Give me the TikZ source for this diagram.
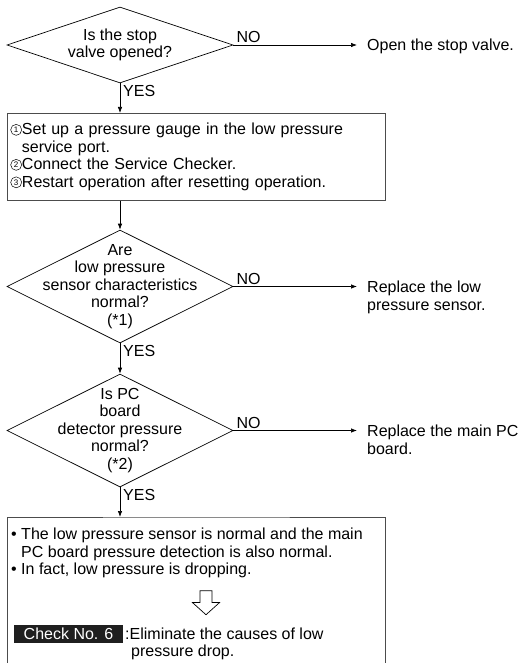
\documentclass[tikz,border=0pt]{standalone}
\usepackage{fontspec}
\setmainfont{Liberation Sans}
\usetikzlibrary{shapes.geometric,shapes.arrows,arrows.meta}
\newcommand{\cnum}[1]{\tikz[baseline={([yshift=-5pt]n.center)}]\node[circle,draw,line width=0.5pt,inner sep=0pt,minimum size=11pt,font=\fontsize{8}{8}\selectfont] (n) {#1};}

\begin{document}
\begin{tikzpicture}[x=1pt,y=-1pt,font=\fontsize{16}{17.5}\selectfont,
  decision/.style={draw,diamond,inner sep=0pt,minimum width=226pt,line width=0.7pt},
  qtext/.style={align=center,inner sep=0pt},
  stepbox/.style={draw=black!70,line width=0.9pt,anchor=north west,inner xsep=3pt,text width=372pt,align=left},
  openbox/.style={anchor=north west,inner sep=0pt,minimum width=378pt},
  boxline/.style={draw=black!70,line width=0.9pt},
  note/.style={align=left,anchor=north west,inner xsep=10pt,inner ysep=0pt},
  body/.style={align=left,anchor=north west,inner sep=0pt},
  lbl/.style={inner xsep=3pt,inner ysep=2pt},
  hollow/.style={draw,single arrow,shape border rotate=270,inner sep=5.5pt,minimum height=24pt,minimum width=27pt,single arrow tip angle=96,line width=0.7pt},
  checkbox/.style={fill=black!88,text=white,minimum width=109pt,minimum height=18pt,inner sep=0pt},
  arr/.style={-{Latex[length=6pt,width=4.5pt]},line width=0.7pt}]
  \useasboundingbox (0,0) rectangle (521,663);
  \node[decision,minimum height=76pt] (q1) at (120,45) {};
  \node[qtext] (q1t) at (q1) {Is the stop\\valve opened?};
  \node[note] (a1) at (357,39) {Open the stop valve.};
  \node[lbl,anchor=south west] (no1) at (q1.east) {NO};
  \node[lbl,anchor=north west] (yes1) at (q1.south) {YES};
  \node[stepbox,minimum height=87pt] (b1) at (7,113) {\cnum{1}Set up a pressure gauge in the low pressure\\\phantom{\cnum{1}}service port.\\\cnum{2}Connect the Service Checker.\\\cnum{3}Restart operation after resetting operation.};
  \node[decision,minimum height=113pt] (q2) at (120,286.5) {};
  \node[qtext] (q2t) at (q2) {Are\\low pressure\\sensor characteristics\\normal?\\(*1)};
  \node[note] (a2) at (357,281) {Replace the low\\pressure sensor.};
  \node[lbl,anchor=south west] (no2) at (q2.east) {NO};
  \node[lbl,anchor=north west] (yes2) at (q2.south) {YES};
  \node[decision,minimum height=113pt] (q3) at (120,430.5) {};
  \node[qtext] (q3t) at (q3) {Is PC\\board\\detector pressure\\normal?\\(*2)};
  \node[note] (a3) at (357,425) {Replace the main PC\\board.};
  \node[lbl,anchor=south west] (no3) at (q3.east) {NO};
  \node[lbl,anchor=north west] (yes3) at (q3.south) {YES};
  \node[openbox,minimum height=146pt] (b3) at (7,517) {};
  \draw[boxline] (b3.south west) |- (b3.north) -| (b3.south east);
  \node[body] (t3) at (11,528) {\textbullet\ The low pressure sensor is normal and the main\\\phantom{\textbullet\ }PC board pressure detection is also normal.\\\textbullet\ In fact, low pressure is dropping.};
  \node[hollow] (down) at (206,600) {};
  \node[checkbox] (chk) at (68.5,634) {Check No. 6};
  \node[body,font=\fontsize{16}{16.5}\selectfont] (elim) at (125,628) {:Eliminate the causes of low\\\hspace*{6pt}pressure drop.};
  \draw[arr] (q1.east) -- (q1.east -| a1.west);
  \draw[arr] (q1.south) -- (q1.south |- b1.north);
  \draw[arr] (b1.south -| q2.north) -- (q2.north);
  \draw[arr] (q2.east) -- (q2.east -| a2.west);
  \draw[arr] (q2.south) -- (q3.north);
  \draw[arr] (q3.east) -- (q3.east -| a3.west);
  \draw[arr] (q3.south) -- (q3.south |- b3.north);
\end{tikzpicture}
\end{document}
